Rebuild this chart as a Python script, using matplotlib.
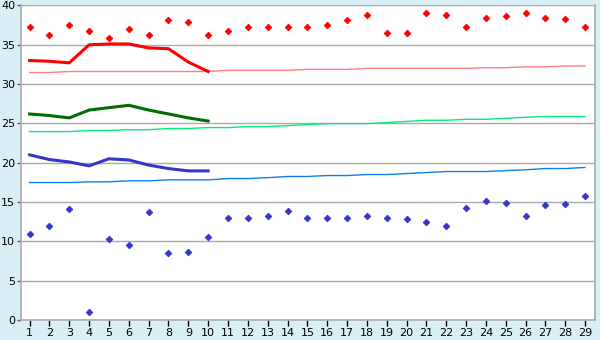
import matplotlib
matplotlib.use("Agg")
import matplotlib.pyplot as plt

days = list(range(1, 30))

max_temp = [37.2, 36.3, 37.5, 36.7, 35.8, 37.0, 36.3, 38.1, 37.9, 36.3,
            36.8, 37.2, 37.3, 37.2, 37.2, 37.5, 38.2, 38.8, 36.5, 36.5,
            39.1, 38.8, 37.2, 38.4, 38.7, 39.1, 38.4, 38.3, 37.2]
min_temp = [10.9, 12.0, 14.1, 1.0, 10.3, 9.5, 13.7, 8.5, 8.6, 10.6,
            13.0, 13.0, 13.2, 13.9, 13.0, 13.0, 13.0, 13.2, 13.0, 12.8,
            12.5, 11.9, 14.2, 15.1, 14.9, 13.2, 14.6, 14.7, 15.8]

avg_days = list(range(1, 11))
avg_max = [33.0, 32.9, 32.7, 35.0, 35.1, 35.1, 34.6, 34.5, 32.8, 31.6]
avg_mean = [26.2, 26.0, 25.7, 26.7, 27.0, 27.3, 26.7, 26.2, 25.7, 25.3]
avg_min = [21.0, 20.4, 20.1, 19.6, 20.5, 20.35, 19.7, 19.26, 18.96, 18.96]

norm_max = [31.47, 31.47, 31.6, 31.6, 31.6, 31.6, 31.6, 31.6, 31.6, 31.6,
            31.75, 31.75, 31.75, 31.75, 31.87, 31.87, 31.87, 32.0, 32.0, 32.0,
            32.0, 32.0, 32.0, 32.08, 32.08, 32.2, 32.2, 32.3, 32.3]
norm_mean = [23.96, 23.96, 23.96, 24.1, 24.1, 24.2, 24.2, 24.35, 24.35, 24.47,
             24.47, 24.6, 24.6, 24.72, 24.85, 24.97, 24.97, 24.97, 25.1, 25.25,
             25.4, 25.4, 25.52, 25.52, 25.65, 25.78, 25.87, 25.87, 25.87]
norm_min = [17.48, 17.48, 17.48, 17.57, 17.57, 17.7, 17.7, 17.82, 17.82, 17.82,
            17.99, 17.99, 18.1, 18.25, 18.25, 18.37, 18.37, 18.5, 18.5, 18.62,
            18.75, 18.88, 18.88, 18.88, 19.0, 19.1, 19.26, 19.26, 19.4]

yticks = [0, 5, 10, 15, 20, 25, 30, 35, 40]

bg = "#D9EFF6"
fig = plt.figure(figsize=(6.0, 3.4), dpi=100, facecolor=bg)
ax = fig.add_axes([0.0345, 0.0588, 0.9572, 0.9252])
ax.set_facecolor("white")

ax.plot(days, norm_max, color="#FF8080", lw=1.0, zorder=2)
ax.plot(days, norm_mean, color="#00EE77", lw=1.0, zorder=2)
ax.plot(days, norm_min, color="#0A80F0", lw=1.0, zorder=2)

ax.plot(avg_days, avg_max, color="#FF0000", lw=2.2, zorder=3)
ax.plot(avg_days, avg_mean, color="#006E00", lw=2.2, zorder=3)
ax.plot(avg_days, avg_min, color="#3535CC", lw=2.2, zorder=3)

ax.plot(days, max_temp, linestyle="none", marker="D", ms=3.4, mew=0.6,
        color="#FF0000", zorder=4)
ax.plot(days, min_temp, linestyle="none", marker="D", ms=3.4, mew=0.6,
        color="#3535CC", zorder=4)

ax.set_xlim(0.55, 29.5)
ax.set_ylim(0, 40)
ax.set_yticks(yticks)
ax.set_yticklabels([str(v) for v in yticks])
ax.set_xticks(days)
ax.set_xticklabels([str(d) for d in days])
ax.yaxis.grid(True, color="#AAAAAA", lw=1.0, zorder=1)
ax.set_axisbelow(True)

for s in ["left", "bottom", "right"]:
    ax.spines[s].set_color("#AAAAAA")
    ax.spines[s].set_linewidth(1.2)
ax.spines["top"].set_visible(False)

ax.tick_params(axis="x", direction="out", length=4, width=1, color="black",
               labelsize=8, pad=2, labelcolor="black")
ax.tick_params(axis="y", direction="out", length=3, width=1, color="#555555",
               labelsize=8, pad=1, labelcolor="black")

fig.savefig("out.png", dpi=100, facecolor=bg)
